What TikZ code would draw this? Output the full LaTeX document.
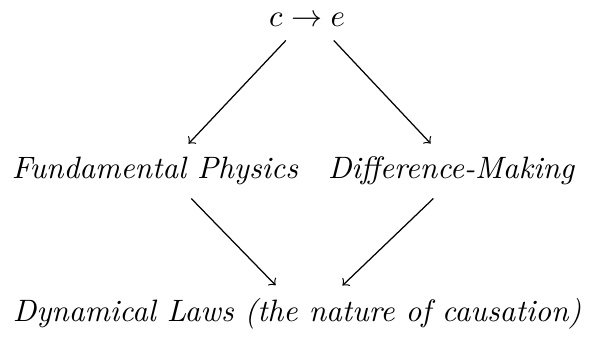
\documentclass[tikz,border=0pt]{standalone}
\usepackage{tikz}
\usetikzlibrary{calc}

\begin{document}
\begin{tikzpicture}[
      lbl/.style={inner sep=2pt, font=\itshape},
      arr/.style={->, shorten <=3pt, shorten >=3pt}]
    \useasboundingbox (0,0) rectangle (6.76,3.82);
    \node[inner sep=2pt] (ce) at (3.49,3.59) {$c \to e$};
    \node[lbl] (fp) at (1.76,1.875) {Fundamental Physics};
    \node[lbl] (dm) at (5.125,1.875) {Difference-Making};
    \node[lbl] (dl) at (3.375,0.25) {Dynamical Laws (the nature of causation)};
    \draw[arr] ([xshift=-0.17cm]ce.south) -- ([xshift=0.31cm]fp.north);
    \draw[arr] ([xshift=0.23cm]ce.south) -- ([xshift=-0.16cm]dm.north);
    \draw[arr] ([xshift=0.34cm]fp.south) -- ([xshift=-0.17cm]dl.north);
    \draw[arr] ([xshift=-0.125cm]dm.south) -- ([xshift=0.44cm]dl.north);
  \end{tikzpicture}
\end{document}
